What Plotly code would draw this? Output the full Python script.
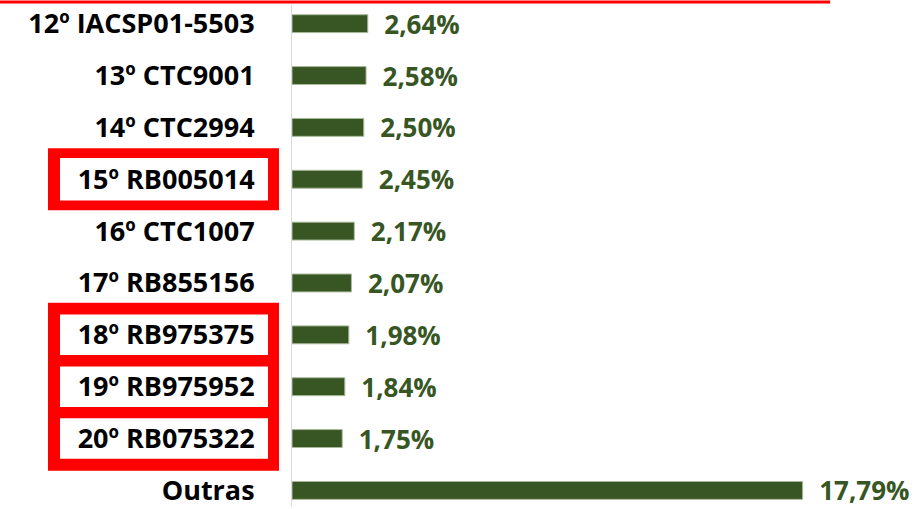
import plotly.graph_objects as go

categories = ["12º IACSP01-5503", "13º CTC9001", "14º CTC2994", "15º RB005014",
              "16º CTC1007", "17º RB855156", "18º RB975375", "19º RB975952",
              "20º RB075322", "Outras"]
values = [2.64, 2.58, 2.50, 2.45, 2.17, 2.07, 1.98, 1.84, 1.75, 17.79]
highlight_single = ["15º RB005014"]
highlight_group = ["18º RB975375", "19º RB975952", "20º RB075322"]

GREEN = "#375623"
RED = "#ff0000"
FONT = "Open Sans"

fig = go.Figure(go.Bar(
    x=values, y=categories, orientation="h",
    marker=dict(color=GREEN, line=dict(color="#a9b99a", width=1)),
    width=0.345,
    texttemplate="  %{x:.2f}%", textposition="outside",
    textfont=dict(family=FONT, size=26, color=GREEN, weight="bold"),
    constraintext="none", cliponaxis=False,
))

shapes = []
# red rule at top
shapes.append(dict(type="line", xref="paper", yref="paper", x0=-0.471, x1=0.868,
                   y0=1.006, y1=1.006, line=dict(color=RED, width=3)))
XO0, XO1 = (48 - 292) / 620, (279 - 292) / 620
XI0, XI1 = (60 - 292) / 620, (268 - 292) / 620
idx = {c: i for i, c in enumerate(categories)}
# single highlight box
for c in highlight_single:
    i = idx[c]
    shapes.append(dict(type="rect", xref="paper", yref="y", x0=XO0, x1=XO1,
                       y0=i - 0.6, y1=i + 0.6, fillcolor=RED, line=dict(width=0), layer="below"))
    shapes.append(dict(type="rect", xref="paper", yref="y", x0=XI0, x1=XI1,
                       y0=i - 0.41, y1=i + 0.41, fillcolor="white", line=dict(width=0), layer="below"))
# group highlight box
gi = [idx[c] for c in highlight_group]
shapes.append(dict(type="rect", xref="paper", yref="y", x0=XO0, x1=XO1,
                   y0=min(gi) - 0.62, y1=max(gi) + 0.62, fillcolor=RED, line=dict(width=0), layer="below"))
for i in gi:
    shapes.append(dict(type="rect", xref="paper", yref="y", x0=XI0, x1=XI1,
                       y0=i - 0.39, y1=i + 0.39, fillcolor="white", line=dict(width=0), layer="below"))

fig.update_layout(
    width=917, height=509,
    margin=dict(l=292, r=5, t=5, b=2),
    paper_bgcolor="white", plot_bgcolor="white",
    separators=",.",
    showlegend=False,
    shapes=shapes,
    xaxis=dict(range=[0, 21.6], visible=False, fixedrange=True),
    yaxis=dict(range=[9.32, -0.36], showline=True, linecolor="#d9d9d9", linewidth=1,
               showgrid=False, ticks="", ticklabelstandoff=31, automargin=False,
               tickfont=dict(family=FONT, size=27, color="black", weight="bold")),
)

fig.write_html("out.html", config={"displayModeBar": False},
               post_script="document.body.style.margin='0px';")
